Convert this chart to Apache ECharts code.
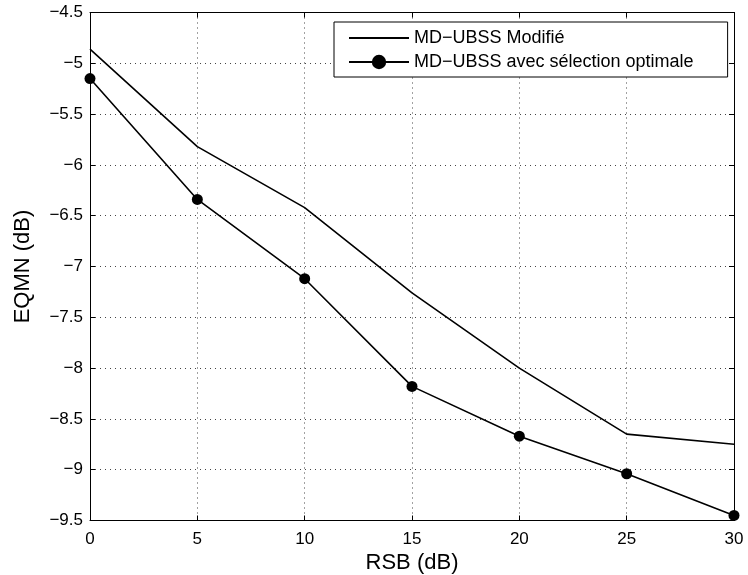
<!DOCTYPE html>
<html><head><meta charset="utf-8">
<script src="https://cdn.jsdelivr.net/npm/echarts@6/dist/echarts.min.js"></script>
<style>html,body{margin:0;padding:0;background:#fff}#c{width:748px;height:575px}</style>
</head><body><div id="c"></div>
<script>
const rsb = [0, 5, 10, 15, 20, 25, 30];
const modifie = [-4.86, -5.82, -6.42, -7.26, -8.00, -8.65, -8.75];
const optimale = [-5.15, -6.34, -7.12, -8.18, -8.67, -9.04, -9.45];
const seriesNames = ['MD\u2212UBSS Modifié', 'MD\u2212UBSS avec sélection optimale'];
const font = 'Liberation Sans, Arial, Helvetica, sans-serif';
const fmt = v => String(v).replace('-', '\u2212');
const chart = echarts.init(document.getElementById('c'));
const gridLine = {show: true, lineStyle: {color: '#444', type: [1, 4], width: 1}};
chart.setOption({
  animation: false,
  backgroundColor: '#fff',
  grid: {left: 90, top: 12.5, right: 14, bottom: 54.5, containLabel: false, outerBoundsMode: 'none'},
  legend: {
    orient: 'vertical', left: 334, top: 22,
    data: [
      {name: seriesNames[0], icon: 'path://M0,0h60v2h-60z'},
      {name: seriesNames[1]}
    ],
    itemWidth: 60, itemHeight: 18, itemGap: 6,
    padding: [7, 34, 6, 14],
    borderColor: '#000', borderWidth: 1, backgroundColor: '#fff',
    textStyle: {fontFamily: font, fontSize: 18, color: '#000'}
  },
  xAxis: [{
    type: 'value', min: 0, max: 30, interval: 5,
    name: 'RSB (dB)', nameLocation: 'middle', nameGap: 31,
    nameTextStyle: {fontFamily: font, fontSize: 22, color: '#000'},
    axisLine: {show: true, onZero: false, lineStyle: {color: '#000', width: 1}},
    axisTick: {show: true, inside: true, length: 5, lineStyle: {color: '#000'}},
    axisLabel: {fontFamily: font, fontSize: 17, color: '#000', margin: 10, formatter: fmt},
    splitLine: gridLine
  }, {
    type: 'value', min: 0, max: 30, interval: 5, position: 'top',
    axisLine: {show: true, onZero: false, lineStyle: {color: '#000', width: 1}},
    axisTick: {show: true, inside: true, length: 5, lineStyle: {color: '#000'}},
    axisLabel: {show: false}, splitLine: {show: false}
  }],
  yAxis: [{
    type: 'value', min: -9.5, max: -4.5, interval: 0.5,
    name: 'EQMN (dB)', nameLocation: 'middle', nameGap: 56,
    nameTextStyle: {fontFamily: font, fontSize: 22, color: '#000'},
    axisLine: {show: true, onZero: false, lineStyle: {color: '#000', width: 1}},
    axisTick: {show: true, inside: true, length: 5, lineStyle: {color: '#000'}},
    axisLabel: {fontFamily: font, fontSize: 17, color: '#000', margin: 7, formatter: fmt},
    splitLine: gridLine
  }, {
    type: 'value', min: -9.5, max: -4.5, interval: 0.5, position: 'right',
    axisLine: {show: true, onZero: false, lineStyle: {color: '#000', width: 1}},
    axisTick: {show: true, inside: true, length: 5, lineStyle: {color: '#000'}},
    axisLabel: {show: false}, splitLine: {show: false}
  }],
  series: [{
    name: seriesNames[0], type: 'line', symbol: 'none',
    data: rsb.map((x, i) => [x, modifie[i]]),
    lineStyle: {color: '#000', width: 1.6}, itemStyle: {color: '#000'}
  }, {
    name: seriesNames[1], type: 'line', symbol: 'circle', symbolSize: 11,
    data: rsb.map((x, i) => [x, optimale[i]]),
    lineStyle: {color: '#000', width: 1.6}, itemStyle: {color: '#000'}
  }]
});
</script></body></html>
